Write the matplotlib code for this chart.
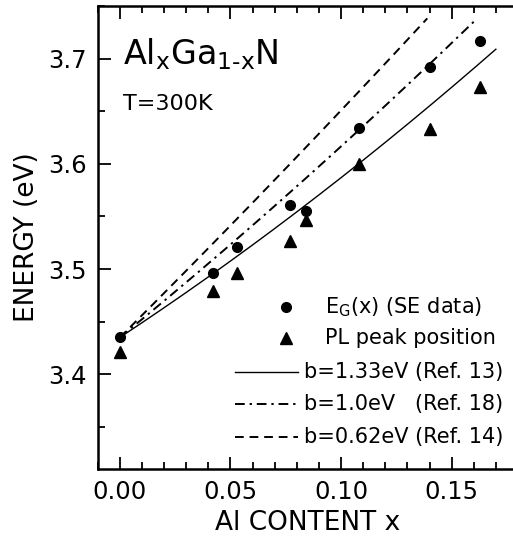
#!/usr/bin/env python3

import numpy as np
import matplotlib
matplotlib.use('Agg')
import matplotlib.pyplot as plt
from matplotlib.ticker import MultipleLocator

plt.rcParams['font.family'] = ['DejaVu Sans']
plt.rcParams['mathtext.default'] = 'regular'

# Al content of the samples
x_al = [0.0, 0.042, 0.053, 0.077, 0.084, 0.108, 0.140, 0.163]
# band gap from SE data (eV)
e_se = [3.435, 3.496, 3.521, 3.561, 3.555, 3.634, 3.692, 3.717]
# PL peak positions (eV)
e_pl = [3.421, 3.479, 3.496, 3.527, 3.547, 3.600, 3.633, 3.673]

# bowing curves
e_gan = 3.435
e_aln = 6.15
bowing = [1.33, 1.0, 0.62]
x_end = [0.170, 0.161, 0.139]
styles = ['-', (0, (5, 2.5, 1.2, 2.5)), (0, (4.5, 3))]
widths = [1.0, 1.4, 1.4]
labels = ['b=1.33eV (Ref. 13)', 'b=1.0eV   (Ref. 18)', 'b=0.62eV (Ref. 14)']

fig = plt.figure(figsize=(5.13, 5.41), dpi=100)
ax = fig.add_axes([0.1905, 0.1331, 1.0097 - 0.1905, 0.989 - 0.1331])

for b, xe, ls, lw in zip(bowing, x_end, styles, widths):
	xx = np.linspace(0, xe, 200)
	ee = (1 - xx) * e_gan + xx * e_aln - b * xx * (1 - xx)
	ax.plot(xx, ee, color='black', lw=lw, linestyle=ls)

ax.plot(x_al, e_se, 'o', color='black', ms=7)
ax.plot(x_al, e_pl, '^', color='black', ms=8.5)

ax.set_xlim(-0.01, 0.18)
ax.set_ylim(3.31, 3.75)
ax.xaxis.set_major_locator(MultipleLocator(0.05))
ax.xaxis.set_minor_locator(MultipleLocator(0.01))
ax.yaxis.set_major_locator(MultipleLocator(0.1))
ax.yaxis.set_minor_locator(MultipleLocator(0.05))
ax.xaxis.set_major_formatter(plt.FormatStrFormatter('%.2f'))
ax.yaxis.set_major_formatter(plt.FormatStrFormatter('%.1f'))
ax.tick_params(which='both', direction='in', top=True, right=False, labelsize=17.5, width=1.3)
ax.tick_params(which='major', length=9, pad=8)
ax.tick_params(which='minor', length=5)
for s in ax.spines.values():
	s.set_linewidth(1.8)

ax.set_xlabel('Al CONTENT x', fontsize=19, labelpad=4)
ax.set_ylabel('ENERGY (eV)', fontsize=19, labelpad=6)

ax.text(0.06, 0.875, 'Al$_x$Ga$_{1\u2010x}$N', transform=ax.transAxes, fontsize=24)
ax.text(0.06, 0.775, 'T=300K', transform=ax.transAxes, fontsize=16)

# legend drawn by hand
ax.plot([0.448], [0.350], 'o', color='black', ms=7, transform=ax.transAxes)
ax.plot([0.448], [0.283], '^', color='black', ms=8.5, transform=ax.transAxes)
ax.text(0.541, 0.350, 'E$_G$(x) (SE data)', transform=ax.transAxes, fontsize=15, va='center')
ax.text(0.541, 0.283, 'PL peak position', transform=ax.transAxes, fontsize=15, va='center')
for i, (ls, lw, lab) in enumerate(zip(styles, widths, labels)):
	yy = 0.210 - i * 0.0705
	ax.plot([0.327, 0.477], [yy, yy], color='black', lw=lw, linestyle=ls, transform=ax.transAxes)
	ax.text(0.49, yy, lab, transform=ax.transAxes, fontsize=15, va='center')

fig.savefig('out.png', dpi=100)
